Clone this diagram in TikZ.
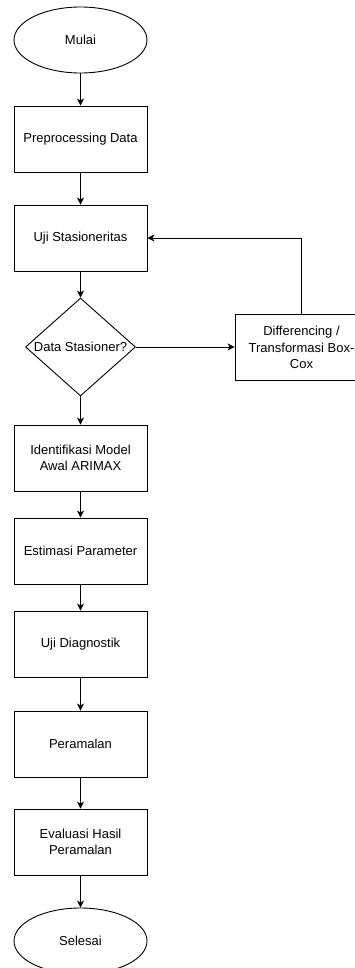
\documentclass[tikz,border=0pt]{standalone}
\usepackage{fontspec}
\setmainfont{Liberation Sans}
\usetikzlibrary{shapes.geometric,arrows.meta}
\begin{document}
\begin{tikzpicture}[x=1pt,y={(0pt,-1pt)},
        font=\fontsize{13}{16.5}\selectfont,
        line width=0.9pt,
        terminal/.style={draw,ellipse,minimum width=133pt,minimum height=66pt,inner sep=0pt},
        process/.style={draw,rectangle,minimum width=133pt,minimum height=66pt,inner sep=0pt,align=center},
        decision/.style={draw,diamond,minimum width=110pt,minimum height=98pt,inner sep=0pt},
        flow/.style={-{Stealth[length=7pt,width=7pt,inset=2pt]}}]
                \useasboundingbox (0,0) rectangle (355,968);
                %% start
                \node[terminal] (mulai) at (80.5,40) {Mulai};
                %% main column
                \node[process] (prep) at (80.5,139) {Preprocessing Data};
                \node[process] (uji) at (80.5,238) {Uji Stasioneritas};
                \node[decision] (dec) at (80.5,347) {};
                \node (dectext) at (dec) {Data Stasioner?};
                \node[process] (diff) at (301.5,347.5) {Differencing /\\Transformasi Box-\\Cox};
                \node[process] (ident) at (80.5,458) {Identifikasi Model\\Awal ARIMAX};
                \node[process] (estim) at (80.5,551) {Estimasi Parameter};
                \node[process] (diag) at (80.5,644) {Uji Diagnostik};
                \node[process] (ramal) at (80.5,744) {Peramalan};
                \node[process] (eval) at (80.5,842) {Evaluasi Hasil\\Peramalan};
                %% end
                \node[terminal] (selesai) at (80.5,941) {Selesai};
                %% arrows
                \draw[flow] (mulai) -- (prep);
                \draw[flow] (prep) -- (uji);
                \draw[flow] (uji) -- (dec);
                \draw[flow] (dec.east) -- (dec.east -| diff.west);
                \draw[flow] (diff.north) |- (uji.east);
                \draw[flow] (dec) -- (ident);
                \draw[flow] (ident) -- (estim);
                \draw[flow] (estim) -- (diag);
                \draw[flow] (diag) -- (ramal);
                \draw[flow] (ramal) -- (eval);
                \draw[flow] (eval) -- (selesai);
            \end{tikzpicture}
\end{document}
